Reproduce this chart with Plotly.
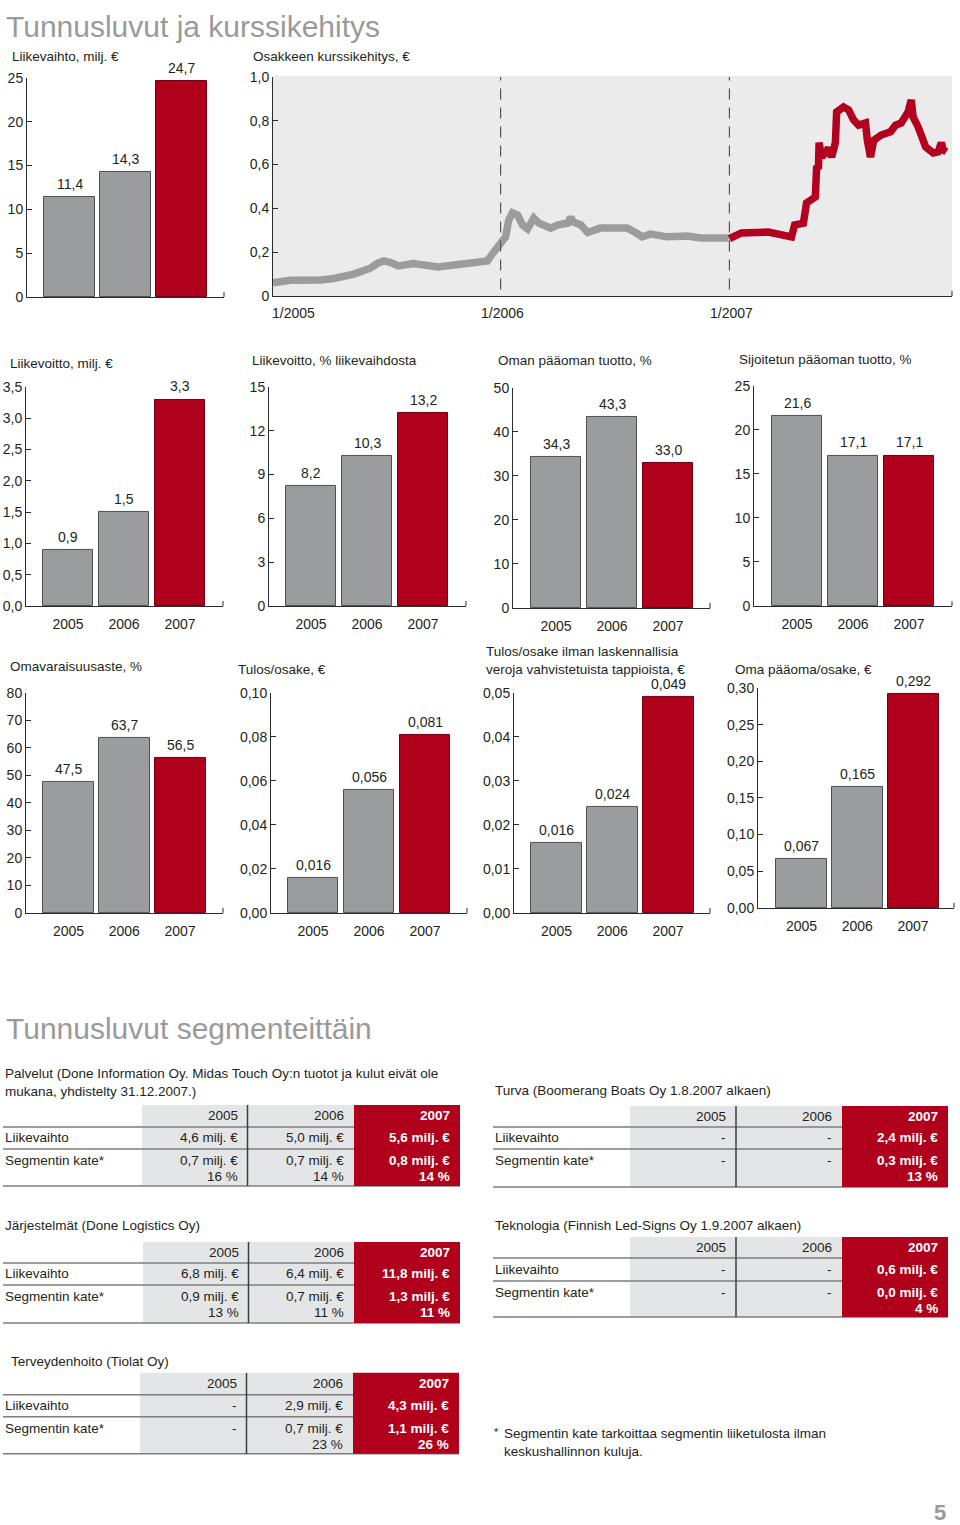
import plotly.graph_objects as go

W, H = 960, 1525
FONT = "Liberation Sans, Arial, Helvetica, sans-serif"
INK = "#231f20"
BAR_GRAY = "#9b9c9e"
BAR_RED = "#b0001c"
EDGE_GRAY = "#505050"
EDGE_RED = "#6e0012"
AXIS = "#2b2b2b"
HEAD_GRAY = "#9a9a9a"
TABLE_GRAY = "#e4e5e6"
TABLE_LINE = "#7d7d7d"
STOCK_BG = "#ebebeb"
LINE_GRAY = "#9c9c9c"
LINE_RED = "#b3001e"

# ------------------------------------------------------------------ data
YEARS = ["2005", "2006", "2007"]

liikevaihto = [11.4, 14.3, 24.7]
liikevaihto_ticks = [0, 5, 10, 15, 20, 25]
liikevaihto_ticktext = ["0", "5", "10", "15", "20", "25"]

liikevoitto = [0.9, 1.5, 3.3]
liikevoitto_ticks = [0, 0.5, 1.0, 1.5, 2.0, 2.5, 3.0, 3.5]
liikevoitto_ticktext = ["0,0", "0,5", "1,0", "1,5", "2,0", "2,5", "3,0", "3,5"]

liikevoitto_pct = [8.2, 10.3, 13.2]
liikevoitto_pct_ticks = [0, 3, 6, 9, 12, 15]
liikevoitto_pct_ticktext = ["0", "3", "6", "9", "12", "15"]

oman_paaoman_tuotto = [34.3, 43.3, 33.0]
oman_paaoman_tuotto_ticks = [0, 10, 20, 30, 40, 50]
oman_paaoman_tuotto_ticktext = ["0", "10", "20", "30", "40", "50"]

sijoitetun_paaoman_tuotto = [21.6, 17.1, 17.1]
sijoitetun_paaoman_tuotto_ticks = [0, 5, 10, 15, 20, 25]
sijoitetun_paaoman_tuotto_ticktext = ["0", "5", "10", "15", "20", "25"]

omavaraisuusaste = [47.5, 63.7, 56.5]
omavaraisuusaste_ticks = [0, 10, 20, 30, 40, 50, 60, 70, 80]
omavaraisuusaste_ticktext = ["0", "10", "20", "30", "40", "50", "60", "70", "80"]

tulos_osake = [0.016, 0.056, 0.081]
tulos_osake_ticks = [0, 0.02, 0.04, 0.06, 0.08, 0.10]
tulos_osake_ticktext = ["0,00", "0,02", "0,04", "0,06", "0,08", "0,10"]

tulos_osake_ilman = [0.016, 0.024, 0.049]
tulos_osake_ilman_ticks = [0, 0.01, 0.02, 0.03, 0.04, 0.05]
tulos_osake_ilman_ticktext = ["0,00", "0,01", "0,02", "0,03", "0,04", "0,05"]

oma_paaoma_osake = [0.067, 0.165, 0.292]
oma_paaoma_osake_ticks = [0, 0.05, 0.10, 0.15, 0.20, 0.25, 0.30]
oma_paaoma_osake_ticktext = ["0,00", "0,05", "0,10", "0,15", "0,20", "0,25", "0,30"]

kurssi_2005_2006_dates = [
    "2005-01-03", "2005-01-31", "2005-03-20", "2005-04-10", "2005-05-12", "2005-06-08",
    "2005-06-19", "2005-06-29", "2005-07-10", "2005-07-22", "2005-08-15", "2005-09-07",
    "2005-09-23", "2005-10-29", "2005-11-30", "2005-12-11", "2005-12-21", "2006-01-01",
    "2006-01-09", "2006-01-14", "2006-01-20", "2006-01-28", "2006-02-05", "2006-02-13",
    "2006-02-18", "2006-02-23", "2006-03-03", "2006-03-22", "2006-04-02", "2006-04-18",
    "2006-04-23", "2006-04-27", "2006-05-09", "2006-05-20", "2006-06-09", "2006-07-22",
    "2006-08-04", "2006-08-15", "2006-08-28", "2006-09-24", "2006-10-26", "2006-11-16",
    "2006-12-31"]
kurssi_2005_2006 = [
    0.060, 0.072, 0.073, 0.080, 0.100, 0.128,
    0.150, 0.160, 0.152, 0.137, 0.148, 0.142,
    0.132, 0.145, 0.150, 0.160, 0.200, 0.240,
    0.270, 0.347, 0.380, 0.370, 0.324, 0.306,
    0.338, 0.356, 0.333, 0.310, 0.324, 0.333,
    0.360, 0.338, 0.324, 0.290, 0.310, 0.310,
    0.290, 0.270, 0.283, 0.270, 0.274, 0.265,
    0.265]
kurssi_2007_dates = [
    "2007-01-01", "2007-01-20", "2007-03-04", "2007-04-10", "2007-04-15", "2007-04-24",
    "2007-04-29", "2007-05-04", "2007-05-18", "2007-05-20", "2007-05-23", "2007-05-24",
    "2007-05-28", "2007-06-03", "2007-06-08", "2007-06-13", "2007-06-16", "2007-06-19",
    "2007-06-21", "2007-07-02", "2007-07-10", "2007-07-18", "2007-07-26", "2007-08-06",
    "2007-08-09", "2007-08-14", "2007-08-19", "2007-08-31", "2007-09-15", "2007-09-23",
    "2007-10-02", "2007-10-13", "2007-10-18", "2007-10-21", "2007-10-29", "2007-11-10",
    "2007-11-22", "2007-11-30", "2007-12-05", "2007-12-08", "2007-12-13"]
kurssi_2007 = [
    0.262, 0.288, 0.292, 0.270, 0.324, 0.333,
    0.333, 0.425, 0.452, 0.584, 0.590, 0.700,
    0.635, 0.653, 0.676, 0.635, 0.680, 0.700,
    0.840, 0.863, 0.850, 0.804, 0.780, 0.790,
    0.710, 0.635, 0.710, 0.735, 0.750, 0.780,
    0.790, 0.840, 0.895, 0.817, 0.772, 0.680,
    0.653, 0.658, 0.700, 0.667, 0.658]
kurssi_ticks = [0, 0.2, 0.4, 0.6, 0.8, 1.0]
kurssi_ticktext = ["0", "0,2", "0,4", "0,6", "0,8", "1,0"]
kurssi_xlabels = ["1/2005", "1/2006", "1/2007"]
kurssi_xlabel_dates = ["2005-01-03", "2006-01-01", "2007-01-01"]
kurssi_year_lines = ["2006-01-01", "2007-01-01"]

seg_titles = [
    "Palvelut (Done Information Oy. Midas Touch Oy:n tuotot ja kulut eivät ole<br>mukana, yhdistelty 31.12.2007.)",
    "Turva (Boomerang Boats Oy 1.8.2007 alkaen)",
    "Järjestelmät (Done Logistics Oy)",
    "Teknologia (Finnish Led-Signs Oy 1.9.2007 alkaen)",
    "Terveydenhoito (Tiolat Oy)",
]
seg_row_labels = ["Liikevaihto", "Segmentin kate*"]
seg_liikevaihto = [
    ["4,6 milj. €", "5,0 milj. €", "5,6 milj. €"],
    ["-", "-", "2,4 milj. €"],
    ["6,8 milj. €", "6,4 milj. €", "11,8 milj. €"],
    ["-", "-", "0,6 milj. €"],
    ["-", "2,9 milj. €", "4,3 milj. €"],
]
seg_kate = [
    ["0,7 milj. €", "0,7 milj. €", "0,8 milj. €"],
    ["-", "-", "0,3 milj. €"],
    ["0,9 milj. €", "0,7 milj. €", "1,3 milj. €"],
    ["-", "-", "0,0 milj. €"],
    ["-", "0,7 milj. €", "1,1 milj. €"],
]
seg_kate_pct = [
    ["16 %", "14 %", "14 %"],
    ["", "", "13 %"],
    ["13 %", "11 %", "11 %"],
    ["", "", "4 %"],
    ["", "23 %", "26 %"],
]

# ------------------------------------------------------------------ helpers
# vertical placement calibrated against the rendered page
Y_OFF, Y_SCALE = 8.0, 0.9896


def fx(x):
    return x / W


def fy(y):
    return 1 - ((y - Y_OFF) / Y_SCALE) / H


def fmt(v, dec):
    return f"{v:.{dec}f}".replace(".", ",")


fig = go.Figure()
annotations = []
shapes = []
axes = {}


def ann(x, y, text, size=13.5, color=INK, xanchor="left", yanchor="middle",
        xref="paper", yref="paper", bold=False, **kw):
    if bold:
        text = f"<b>{text}</b>"
    annotations.append(dict(x=x, y=y, xref=xref, yref=yref, text=text, showarrow=False,
                            xanchor=xanchor, yanchor=yanchor, align="left",
                            font=dict(family=FONT, size=size, color=color), **kw))


def pline(x0, y0, x1, y1, color=AXIS, width=1, dash=None, layer="above"):
    ln = dict(color=color, width=width)
    if dash:
        ln["dash"] = dash
    shapes.append(dict(type="line", xref="paper", yref="paper", x0=fx(x0), y0=fy(y0),
                       x1=fx(x1), y1=fy(y1), line=ln, layer=layer))


def prect(x0, y0, x1, y1, color, layer="below"):
    shapes.append(dict(type="rect", xref="paper", yref="paper", x0=fx(x0), y0=fy(y0),
                       x1=fx(x1), y1=fy(y1), fillcolor=color, line=dict(width=0), layer=layer))


# ------------------------------------------------------------------ big headings
ann(fx(4), 1.0, "Tunnusluvut ja kurssikehitys", size=30, color=HEAD_GRAY, yanchor="top")
ann(fx(4), fy(1029), "Tunnusluvut segmenteittäin", size=30, color=HEAD_GRAY)

# ------------------------------------------------------------------ bar charts
bar_charts = [
    dict(title="Liikevaihto, milj. €", tx=10, ty=57, values=liikevaihto, dec=1,
         ticks=liikevaihto_ticks, ticktext=liikevaihto_ticktext,
         left=27, right=224, c0=69.5, c2=181, bw=51, top=78, zero=297, years=False),
    dict(title="Liikevoitto, milj. €", tx=8, ty=364, values=liikevoitto, dec=1,
         ticks=liikevoitto_ticks, ticktext=liikevoitto_ticktext,
         left=26, right=223, c0=68, c2=180, bw=50, top=387, zero=606, years=True),
    dict(title="Liikevoitto, % liikevaihdosta", tx=250, ty=361, values=liikevoitto_pct, dec=1,
         ticks=liikevoitto_pct_ticks, ticktext=liikevoitto_pct_ticktext,
         left=269, right=466, c0=311, c2=423, bw=50, top=387, zero=606, years=True),
    dict(title="Oman pääoman tuotto, %", tx=496, ty=361, values=oman_paaoman_tuotto, dec=1,
         ticks=oman_paaoman_tuotto_ticks, ticktext=oman_paaoman_tuotto_ticktext,
         left=513, right=710, c0=556, c2=668, bw=50, top=388, zero=608, years=True),
    dict(title="Sijoitetun pääoman tuotto, %", tx=737, ty=360, values=sijoitetun_paaoman_tuotto, dec=1,
         ticks=sijoitetun_paaoman_tuotto_ticks, ticktext=sijoitetun_paaoman_tuotto_ticktext,
         left=754, right=952, c0=797, c2=909, bw=50, top=386, zero=606, years=True),
    dict(title="Omavaraisuusaste, %", tx=8, ty=667, values=omavaraisuusaste, dec=1,
         ticks=omavaraisuusaste_ticks, ticktext=omavaraisuusaste_ticktext,
         left=26, right=223, c0=68.5, c2=180, bw=51, top=693, zero=913, years=True),
    dict(title="Tulos/osake, €", tx=236, ty=670, values=tulos_osake, dec=3,
         ticks=tulos_osake_ticks, ticktext=tulos_osake_ticktext,
         left=271, right=467, c0=313, c2=425, bw=50, top=693, zero=913, years=True),
    dict(title="Tulos/osake ilman laskennallisia<br>veroja vahvistetuista tappioista, €",
         tx=484, ty=660.5, values=tulos_osake_ilman, dec=3,
         ticks=tulos_osake_ilman_ticks, ticktext=tulos_osake_ilman_ticktext,
         left=514, right=710, c0=556.5, c2=668, bw=51, top=693, zero=913, years=True),
    dict(title="Oma pääoma/osake, €", tx=733, ty=670, values=oma_paaoma_osake, dec=3,
         ticks=oma_paaoma_osake_ticks, ticktext=oma_paaoma_osake_ticktext,
         left=758, right=954, c0=801.5, c2=913, bw=51, top=688, zero=908, years=True),
]

tickfont = dict(family=FONT, size=14, color=INK)

for i, c in enumerate(bar_charts, start=1):
    xa = "x" if i == 1 else f"x{i}"
    ya = "y" if i == 1 else f"y{i}"
    kx = "xaxis" if i == 1 else f"xaxis{i}"
    ky = "yaxis" if i == 1 else f"yaxis{i}"
    s = (c["c2"] - c["c0"]) / 2.0
    xr = [-(c["c0"] - c["left"]) / s, 2 + (c["right"] - c["c2"]) / s]
    fig.add_trace(go.Bar(
        x=[0, 1, 2], y=c["values"], width=c["bw"] / s,
        marker=dict(color=[BAR_GRAY, BAR_GRAY, BAR_RED],
                    line=dict(color=[EDGE_GRAY, EDGE_GRAY, EDGE_RED], width=1)),
        xaxis=xa, yaxis=ya, hoverinfo="skip", showlegend=False))
    axes[kx] = dict(domain=[fx(c["left"]), fx(c["right"])], range=xr, anchor=ya,
                    showline=True, linecolor=AXIS, linewidth=1, showgrid=False, zeroline=False,
                    tickvals=[0, 1, 2], ticktext=YEARS, showticklabels=c["years"],
                    ticks="outside", ticklen=5, tickcolor="rgba(0,0,0,0)",
                    tickfont=tickfont, fixedrange=True)
    axes[ky] = dict(domain=[fy(c["zero"]), fy(c["top"])], range=[0, c["ticks"][-1]], anchor=xa,
                    showline=True, linecolor=AXIS, linewidth=1, showgrid=False, zeroline=False,
                    tickvals=c["ticks"], ticktext=c["ticktext"], ticks="inside", ticklen=5,
                    tickcolor=AXIS, tickfont=tickfont, fixedrange=True)
    ann(fx(c["tx"]), fy(c["ty"]), c["title"], size=13.5)
    for k, v in enumerate(c["values"]):
        ann(k, v, fmt(v, c["dec"]), size=14, xanchor="center", yanchor="bottom",
            xref=xa, yref=ya, yshift=3)
    pline(c["right"], c["zero"], c["right"], c["zero"] - 5)

# ------------------------------------------------------------------ stock chart
si = len(bar_charts) + 1
sxa, sya = f"x{si}", f"y{si}"
S_LEFT, S_RIGHT, S_TOP, S_ZERO = 273, 952, 77, 296
prect(S_LEFT, 76, S_RIGHT, S_ZERO, STOCK_BG)
fig.add_trace(go.Scatter(x=kurssi_2005_2006_dates, y=kurssi_2005_2006, mode="lines",
                         line=dict(color=LINE_GRAY, width=7.5), xaxis=sxa, yaxis=sya,
                         hoverinfo="skip", showlegend=False))
fig.add_trace(go.Scatter(x=kurssi_2007_dates, y=kurssi_2007, mode="lines",
                         line=dict(color=LINE_RED, width=7.5), xaxis=sxa, yaxis=sya,
                         hoverinfo="skip", showlegend=False))
axes[f"xaxis{si}"] = dict(domain=[fx(S_LEFT), fx(S_RIGHT)], type="date",
                          range=["2005-01-03", "2007-12-22"], anchor=sya,
                          showline=True, linecolor=AXIS, linewidth=1, showgrid=False,
                          zeroline=False, showticklabels=False, ticks="", fixedrange=True)
axes[f"yaxis{si}"] = dict(domain=[fy(S_ZERO), fy(S_TOP)], range=[0, 1.0], anchor=sxa,
                          showline=True, linecolor=AXIS, linewidth=1, showgrid=False,
                          zeroline=False, tickvals=kurssi_ticks, ticktext=kurssi_ticktext,
                          ticks="inside", ticklen=5, tickcolor=AXIS, tickfont=tickfont,
                          fixedrange=True)
for d in kurssi_year_lines:
    shapes.append(dict(type="line", xref=sxa, yref=sya, x0=d, x1=d, y0=0.03, y1=1.0,
                       line=dict(color="#555555", width=1.2, dash="11px,8px"), layer="above"))
for k, (lab, d) in enumerate(zip(kurssi_xlabels, kurssi_xlabel_dates)):
    ann(d, fy(313), lab, size=14, xanchor="left" if k == 0 else "center",
        xref=sxa, yref="paper", xshift=-3 if k == 0 else 2)
ann(fx(251), fy(57), "Osakkeen kurssikehitys, €", size=13.5)
pline(S_RIGHT, S_ZERO, S_RIGHT, S_ZERO - 5)

# ------------------------------------------------------------------ segment tables
tables = [
    dict(tx=3, ty=1082.5, lx=3, cols=[(142, 247.5), (247.5, 354), (354, 460)],
         ht=1105, hl=1127, r1=1149, bot=1186),
    dict(tx=493, ty=1091, lx=493, cols=[(630, 736), (736, 842), (842, 948)],
         ht=1106, hl=1127, r1=1149, bot=1187),
    dict(tx=3, ty=1226, lx=3, cols=[(143, 248.5), (248.5, 354), (354, 460)],
         ht=1242, hl=1263, r1=1285, bot=1323),
    dict(tx=493, ty=1226, lx=493, cols=[(630, 736), (736, 842), (842, 948)],
         ht=1237, hl=1258, r1=1281, bot=1317),
    dict(tx=9, ty=1362, lx=3, cols=[(140, 246.5), (246.5, 353), (353, 459)],
         ht=1373, hl=1395, r1=1417, bot=1454),
]
TS = 13.5
for t, g in enumerate(tables):
    c = g["cols"]
    prect(c[0][0], g["ht"], c[0][1], g["bot"], TABLE_GRAY)
    prect(c[1][0], g["ht"], c[1][1], g["bot"], TABLE_GRAY)
    for yy in (g["hl"], g["r1"], g["bot"]):
        pline(g["lx"], yy, c[2][1], yy, color=TABLE_LINE, width=1.5)
    pline(c[0][1], g["ht"], c[0][1], g["bot"], color="#3c3c3c", width=1.5)
    prect(c[2][0], g["ht"], c[2][1], g["bot"], BAR_RED, layer="above")
    ann(fx(g["tx"]), fy(g["ty"]), seg_titles[t], size=TS)
    yh = (g["ht"] + g["hl"]) / 2
    y1 = (g["hl"] + g["r1"]) / 2
    y2a = g["r1"] + 12
    y2b = g["r1"] + 28
    ann(fx(g["lx"]), fy(y1), seg_row_labels[0], size=TS)
    ann(fx(g["lx"]), fy(y2a), seg_row_labels[1], size=TS)
    for k in range(3):
        xr_ = fx(c[k][1] - 8)
        red = k == 2
        col = "white" if red else INK
        ann(xr_, fy(yh), YEARS[k], size=TS, color=col, xanchor="right", bold=red)
        ann(xr_, fy(y1), seg_liikevaihto[t][k], size=TS, color=col, xanchor="right", bold=red)
        ann(xr_, fy(y2a), seg_kate[t][k], size=TS, color=col, xanchor="right", bold=red)
        if seg_kate_pct[t][k]:
            ann(xr_, fy(y2b), seg_kate_pct[t][k], size=TS, color=col, xanchor="right", bold=red)

# footnote and page number
ann(fx(492), fy(1432), "*", size=11)
ann(fx(502), fy(1443), "Segmentin kate tarkoittaa segmentin liiketulosta ilman<br>keskushallinnon kuluja.",
    size=TS)
ann(fx(948), fy(1513), "<b>5</b>", size=22, color=HEAD_GRAY, xanchor="right")

fig.update_layout(
    width=W, height=H, margin=dict(l=0, r=0, t=0, b=0),
    paper_bgcolor="white", plot_bgcolor="rgba(0,0,0,0)",
    showlegend=False, bargap=0,
    font=dict(family=FONT, size=14, color=INK),
    annotations=annotations, shapes=shapes, **axes)

fig.write_html("out.html", config={"displayModeBar": False},
               post_script="document.body.style.margin='0';document.body.style.padding='0';")
